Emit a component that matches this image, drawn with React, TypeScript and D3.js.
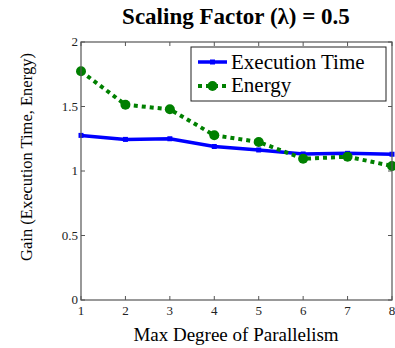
import { useEffect, useRef } from "react";
import * as d3 from "d3";

const degrees = [1, 2, 3, 4, 5, 6, 7, 8];
const execTime = [1.276, 1.245, 1.25, 1.19, 1.163, 1.132, 1.137, 1.13];
const energy = [1.773, 1.514, 1.478, 1.277, 1.225, 1.095, 1.111, 1.039];
const yTicks = [0, 0.5, 1, 1.5, 2];
const yTickLabels = ["0", "0.5", "1", "1.5", "2"];

const WIDTH = 395;
const HEIGHT = 348;
const PLOT = { left: 81, right: 392, top: 42, bottom: 300 };
const SERIF = "'Liberation Serif', 'DejaVu Serif', serif";

export default function App() {
  const svgRef = useRef<SVGSVGElement>(null);

  useEffect(() => {
    if (!svgRef.current) return;
    const svg = d3.select(svgRef.current);
    svg.selectAll("*").remove();

    const x = d3.scaleLinear().domain([1, 8]).range([PLOT.left, PLOT.right]);
    const y = d3.scaleLinear().domain([0, 2]).range([PLOT.bottom, PLOT.top]);

    // title
    svg
      .append("text")
      .attr("x", 236)
      .attr("y", 24)
      .attr("text-anchor", "middle")
      .attr("font-family", SERIF)
      .attr("font-weight", "bold")
      .attr("font-size", 23)
      .text("Scaling Factor (λ) = 0.5");

    const axisCol = "#555";

    // ticks (inside, both sides)
    const tk = svg.append("g").attr("stroke", axisCol).attr("stroke-width", 1);
    degrees.forEach((d) => {
      tk.append("line").attr("x1", x(d)).attr("x2", x(d)).attr("y1", PLOT.bottom).attr("y2", PLOT.bottom - 4);
      tk.append("line").attr("x1", x(d)).attr("x2", x(d)).attr("y1", PLOT.top).attr("y2", PLOT.top + 4);
    });
    yTicks.forEach((v) => {
      tk.append("line").attr("x1", PLOT.left).attr("x2", PLOT.left + 4).attr("y1", y(v)).attr("y2", y(v));
      tk.append("line").attr("x1", PLOT.right).attr("x2", PLOT.right - 4).attr("y1", y(v)).attr("y2", y(v));
    });

    // tick labels
    svg
      .append("g")
      .selectAll("text")
      .data(degrees)
      .join("text")
      .attr("x", (d) => x(d))
      .attr("y", PLOT.bottom + 15)
      .attr("text-anchor", "middle")
      .attr("font-family", SERIF)
      .attr("font-size", 13)
      .attr("fill", "#222")
      .text((d) => String(d));

    svg
      .append("g")
      .selectAll("text")
      .data(yTicks)
      .join("text")
      .attr("x", PLOT.left - 3)
      .attr("y", (d) => y(d) + 4)
      .attr("text-anchor", "end")
      .attr("font-family", SERIF)
      .attr("font-size", 13)
      .attr("fill", "#222")
      .text((_, i) => yTickLabels[i]);

    // axis labels
    svg
      .append("text")
      .attr("x", 236)
      .attr("y", 341)
      .attr("text-anchor", "middle")
      .attr("font-family", SERIF)
      .attr("font-size", 19)
      .text("Max Degree of Parallelism");

    svg
      .append("text")
      .attr("transform", "translate(32,157) rotate(-90)")
      .attr("text-anchor", "middle")
      .attr("font-family", SERIF)
      .attr("font-size", 16.5)
      .text("Gain (Execution Time, Energy)");

    const line = d3
      .line<number>()
      .x((_, i) => x(degrees[i]))
      .y((d) => y(d));

    // execution time
    svg
      .append("path")
      .datum(execTime)
      .attr("d", line)
      .attr("fill", "none")
      .attr("stroke", "#0000ff")
      .attr("stroke-width", 3.5);
    svg
      .append("g")
      .selectAll("rect")
      .data(execTime)
      .join("rect")
      .attr("x", (_, i) => x(degrees[i]) - 2.5)
      .attr("y", (d) => y(d) - 2.5)
      .attr("width", 5)
      .attr("height", 5)
      .attr("fill", "#0000ff");

    // energy
    svg
      .append("path")
      .datum(energy)
      .attr("d", line)
      .attr("fill", "none")
      .attr("stroke", "#008000")
      .attr("stroke-width", 4)
      .attr("stroke-dasharray", "4,4");
    svg
      .append("g")
      .selectAll("circle")
      .data(energy)
      .join("circle")
      .attr("cx", (_, i) => x(degrees[i]))
      .attr("cy", (d) => y(d))
      .attr("r", 5)
      .attr("fill", "#008000");

    // frame
    svg
      .append("rect")
      .attr("x", PLOT.left)
      .attr("y", PLOT.top)
      .attr("width", PLOT.right - PLOT.left)
      .attr("height", PLOT.bottom - PLOT.top)
      .attr("fill", "none")
      .attr("stroke", axisCol)
      .attr("stroke-width", 1.2);

    // legend
    const lg = svg.append("g").attr("transform", "translate(191,47)");
    lg.append("rect")
      .attr("width", 195)
      .attr("height", 54)
      .attr("fill", "white")
      .attr("stroke", "#222")
      .attr("stroke-width", 1);
    lg.append("line")
      .attr("x1", 7).attr("x2", 36).attr("y1", 15).attr("y2", 15)
      .attr("stroke", "#0000ff").attr("stroke-width", 3.5);
    lg.append("rect").attr("x", 19).attr("y", 12.5).attr("width", 5).attr("height", 5).attr("fill", "#0000ff");
    lg.append("text")
      .attr("x", 40).attr("y", 22)
      .attr("font-family", SERIF).attr("font-size", 21)
      .text("Execution Time");
    lg.append("line")
      .attr("x1", 7).attr("x2", 36).attr("y1", 39).attr("y2", 39)
      .attr("stroke", "#008000").attr("stroke-width", 4).attr("stroke-dasharray", "4,4");
    lg.append("circle").attr("cx", 21.5).attr("cy", 39).attr("r", 5).attr("fill", "#008000");
    lg.append("text")
      .attr("x", 40).attr("y", 45)
      .attr("font-family", SERIF).attr("font-size", 21)
      .text("Energy");
  }, []);

  return (
    <svg
      ref={svgRef}
      width={WIDTH}
      height={HEIGHT}
      style={{ position: "absolute", left: 0, top: 0, background: "white" }}
    />
  );
}
